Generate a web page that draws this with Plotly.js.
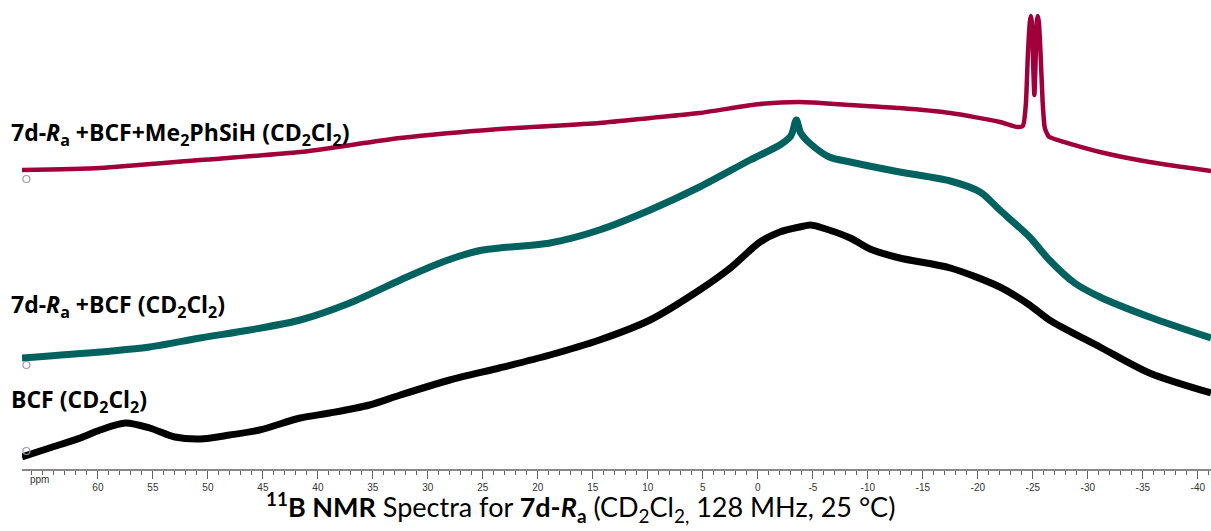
<!DOCTYPE html>
<html>
<head>
<meta charset="utf-8">
<script src="https://cdn.plot.ly/plotly-3.0.1.min.js"></script>
<style>html,body{margin:0;padding:0;background:#fff;}#chart{width:1211px;height:531px;}</style>
</head>
<body>
<div id="chart"></div>
<script>
// Chemical shift (ppm) and intensity (arbitrary units, stacked offsets as in the figure)
const silaneShift = [66.9, 59.8, 50.7, 41.6, 32.5, 23.5, 14.4, 9.8, 5.3, -0.2, -3.8, -8.4, -12.9, -17.5, -22.0, -23.6,
  -24.09, -24.36, -24.55, -24.73, -24.82, -24.91, -25.05, -25.14, -25.23, -25.36, -25.45, -25.55, -25.73, -25.91, -26.09, -26.36,
  -26.5, -31.1, -35.6, -41.2];
const silaneIntensity = [299, 301, 309, 317, 331, 340, 346, 351, 356, 365, 367, 364, 361, 356, 347, 342,
  343, 364, 414, 447, 453, 447, 399, 374, 399, 447, 453, 447, 409, 364, 341, 334,
  332, 317, 307, 298];

const bcfMixShift = [66.9, 59.8, 55.3, 50.7, 46.2, 41.6, 37.1, 32.5, 29.8, 27.1, 25.0, 23.5, 18.9, 14.4, 9.8, 5.3, 0.7, -2.0, -3.0,
  -3.5, -3.9, -4.7, -6.5, -8.4, -12.9, -17.5, -20.2, -22.0, -24.7, -26.5, -28.8, -31.1, -35.6, -41.2];
const bcfMixIntensity = [111, 117, 122, 131, 139, 149, 166, 189, 202, 213, 219, 221, 226, 239, 259, 282, 309, 324, 333,
  349, 336, 326, 312, 307, 297, 288, 277, 259, 232, 209, 186, 172, 152, 131];

const bcfShift = [66.9, 64.4, 61.6, 59.8, 57.5, 55.3, 53.0, 50.7, 48.0, 45.3, 41.6, 38.9, 35.3, 32.5, 28.0, 23.5, 18.9, 14.4,
  9.8, 5.3, 2.5, -0.2, -2.0, -3.8, -4.8, -5.6, -8.4, -10.2, -12.9, -17.5, -22.0, -24.7, -26.5, -31.1, -35.6, -41.2];
const bcfIntensity = [12, 21, 31, 39, 46, 41, 32, 30, 34, 39, 51, 56, 64, 74, 89, 101, 114, 129,
  149, 179, 201, 227, 237, 242, 244, 242, 231, 220, 211, 201, 182, 164, 149, 122, 96, 76];

// small reference circles at the start of each spectrum
const circleShift = [66.5, 66.5, 66.5];
const circleIntensity = [290, 104, 18];

const majorTicks = [60, 55, 50, 45, 40, 35, 30, 25, 20, 15, 10, 5, 0, -5, -10, -15, -20, -25, -30, -35, -40];
const seriesLabels = [
  '7d-<i>R</i><sub>a</sub> +BCF+Me<sub>2</sub>PhSiH (CD<sub>2</sub>Cl<sub>2</sub>)',
  '7d-<i>R</i><sub>a</sub> +BCF (CD<sub>2</sub>Cl<sub>2</sub>)',
  'BCF (CD<sub>2</sub>Cl<sub>2</sub>)'
];
const labelY = [336, 164, 69];

const minorTicks = [];
for (let v = 66; v >= -41; v--) minorTicks.push(v);

const traces = [
  {x: bcfShift, y: bcfIntensity, mode: 'lines', line: {color: '#000000', width: 7, shape: 'spline', smoothing: 0.8}, hoverinfo: 'skip'},
  {x: bcfMixShift, y: bcfMixIntensity, mode: 'lines', line: {color: '#00625f', width: 7, shape: 'spline', smoothing: 0.8}, hoverinfo: 'skip'},
  {x: silaneShift, y: silaneIntensity, mode: 'lines', line: {color: '#a0003a', width: 4.5, shape: 'spline', smoothing: 0.6}, hoverinfo: 'skip'},
  {x: circleShift, y: circleIntensity, mode: 'markers', marker: {symbol: 'circle-open', size: 7, color: '#9a9ab8', line: {width: 1.2}}, hoverinfo: 'skip'}
];

const PLOT_W = 1189, PLOT_H = 469;
const annotations = seriesLabels.map((t, i) => ({
  text: '<b>' + t + '</b>', xref: 'paper', yref: 'y', x: -13 / PLOT_W, y: labelY[i],
  xanchor: 'left', yanchor: 'middle', showarrow: false,
  font: {family: '"Open Sans", sans-serif', size: 23, color: '#000', weight: 700}
}));
annotations.push({
  text: 'ppm', xref: 'paper', yref: 'paper', x: (39 - 22) / PLOT_W, y: (PLOT_H - 479) / PLOT_H, showarrow: false,
  xanchor: 'center', yanchor: 'middle', font: {family: 'Liberation Sans, Arial, sans-serif', size: 10, color: '#333'}
});
annotations.push({
  text: '<b><sup>11</sup>B NMR</b> Spectra for <b>7d-<i>R</i><sub>a</sub></b> (CD<sub>2</sub>Cl<sub>2,</sub> 128 MHz, 25 °C)',
  xref: 'paper', yref: 'paper', x: (580 - 22) / PLOT_W, y: (PLOT_H - 507) / PLOT_H, showarrow: false,
  xanchor: 'center', yanchor: 'middle', font: {family: 'Lato, "Open Sans", sans-serif', size: 27, color: '#000'}
});

const layout = {
  width: 1211, height: 531,
  margin: {l: 22, r: 0, t: 0, b: 62, pad: 0},
  paper_bgcolor: '#ffffff', plot_bgcolor: '#ffffff',
  showlegend: false,
  xaxis: {
    range: [66.9, -41.2], showgrid: false, zeroline: false,
    showline: true, linecolor: '#888888', linewidth: 1.5,
    ticks: 'outside', ticklen: 8, tickwidth: 1, tickcolor: '#666666',
    tickmode: 'array', tickvals: majorTicks, ticktext: majorTicks.map(String),
    tickfont: {family: 'Liberation Sans, Arial, sans-serif', size: 10, color: '#333333'},
    minor: {tickmode: 'array', tickvals: minorTicks, ticks: 'outside', ticklen: 4, tickwidth: 1, tickcolor: '#666666', showgrid: false}
  },
  yaxis: {range: [0, 469], visible: false, showgrid: false, zeroline: false},
  annotations: annotations
};

Plotly.newPlot('chart', traces, layout, {displayModeBar: false, staticPlot: true});
</script>
</body>
</html>
